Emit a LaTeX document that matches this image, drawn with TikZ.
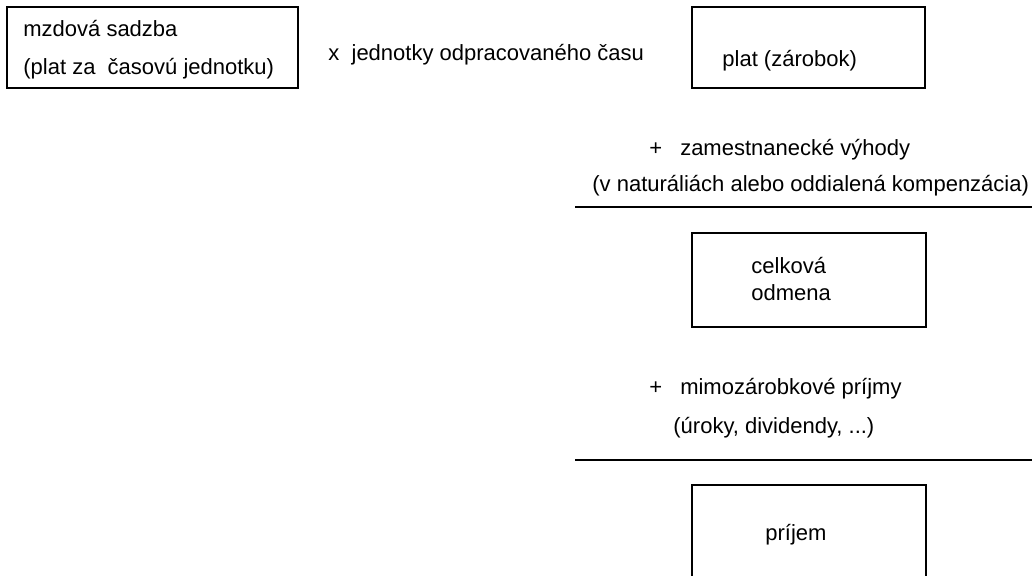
\documentclass[tikz,border=0pt]{standalone}
\usepackage{fontspec}
\setmainfont{Liberation Sans}
\usepackage{tikz}

\begin{document}
\begin{tikzpicture}[x=0.5pt, y=-0.5pt,
        box/.style={draw, line width=1pt, inner sep=0pt},
        txt/.style={inner sep=0pt, anchor=base west, font=\fontsize{11}{13}\selectfont},
        rule/.style={line width=1pt}]
    \clip (0, 0) rectangle (1032, 575);
    % boxes
    \node[box, minimum width=145.5pt, minimum height=40.5pt] (sadzba) at (152.5, 47.5) {};
    \node[box, minimum width=116.5pt, minimum height=40.5pt] (plat) at (808.5, 47.5) {};
    \node[box, minimum width=117pt, minimum height=47pt] (odmena) at (809, 280) {};
    \node[box, minimum width=117pt, minimum height=55pt] (prijem) at (809, 540) {};
    % texts
    \node[txt] (sadzbaA) at (23, 36) {mzdová sadzba};
    \node[txt] (sadzbaB) at (23, 74) {(plat za~ časovú jednotku)};
    \node[txt] (cas) at (328, 60) {x~ jednotky odpracovaného času};
    \node[txt] (platT) at (722, 66) {plat (zárobok)};
    \node[txt] (vyhody) at (649, 155) {+\hspace{9pt}zamestnanecké výhody};
    \node[txt] (vyhodyB) at (592, 191) {(v naturáliách alebo oddialená kompenzácia)};
    \node[txt] (odmenaA) at (751, 273) {celková};
    \node[txt] (odmenaB) at (751, 300) {odmena};
    \node[txt] (mimo) at (649, 394) {+\hspace{9pt}mimozárobkové príjmy};
    \node[txt] (mimoB) at (673, 433) {(úroky, dividendy, ...)};
    \node[txt] (prijemT) at (765, 540) {príjem};
    % rules
    \coordinate (ruleA1) at (575, 207);
    \coordinate (ruleA2) at (1032, 207);
    \coordinate (ruleB1) at (575, 460);
    \coordinate (ruleB2) at (1032, 460);
    \draw[rule] (ruleA1) -- (ruleA2);
    \draw[rule] (ruleB1) -- (ruleB2);
\end{tikzpicture}
\end{document}
